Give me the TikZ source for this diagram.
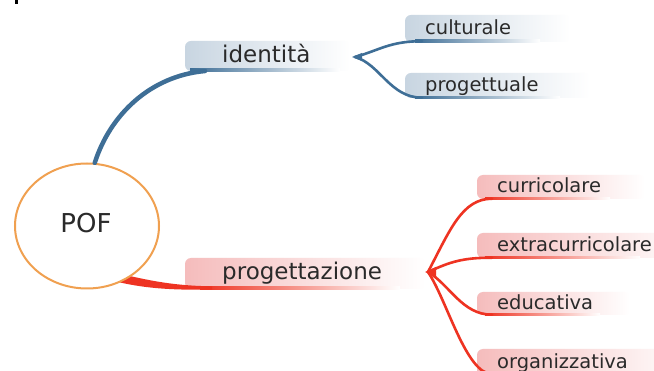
\documentclass[tikz,border=0pt]{standalone}
\usepackage{fontspec}
\setmainfont{DejaVu Sans}
\usetikzlibrary{shapes.geometric}
\definecolor{blueline}{HTML}{3E6E96}
\definecolor{bluebox}{HTML}{C8D5E1}
\definecolor{redline}{HTML}{EE3322}
\definecolor{redbox}{HTML}{F5BCBC}
\definecolor{pofor}{HTML}{F0A050}
\definecolor{txt}{HTML}{2A2A2A}
\tikzset{
  branchtext/.style={anchor=base west, inner sep=0pt, text=txt, font=\fontsize{23}{27}\selectfont},
  childtext/.style={anchor=base west, inner sep=0pt, text=txt, font=\fontsize{19.5}{23}\selectfont},
  bluebar/.style={left color=bluebox, middle color=bluebox!70, right color=white, rounded corners=6pt},
  redbar/.style={left color=redbox, middle color=redbox!70, right color=white, rounded corners=6pt},
  bluelinebar/.style={left color=blueline, right color=white},
  redlinebar/.style={left color=redline, right color=white},
  mainblue/.style={draw=blueline, line width=4.5pt, line cap=round},
  subblue/.style={draw=blueline, line width=2.6pt, line cap=round},
  subred/.style={draw=redline, line width=2.6pt, line cap=round},
}
\begin{document}
\begin{tikzpicture}[x=1pt, y=-1pt]
\useasboundingbox[fill=white] (0,0) rectangle (654,371);
\fill[black] (15,0) rectangle (17.5,4);

% connection points
\coordinate (identin) at (205,71);
\coordinate (redA) at (115,272.5);
\coordinate (redB) at (118,282);
\coordinate (redC) at (212,286.3);
\coordinate (redD) at (212,289.7);
\coordinate (bfork) at (355,57);
\coordinate (rfork) at (428,272);
\coordinate (cultin) at (422,41.2);
\coordinate (progtin) at (422,97.7);
\coordinate (currin) at (492,198.7);
\coordinate (extrain) at (492,257.7);
\coordinate (educin) at (492,314.7);
\coordinate (orgin) at (492,374);

% boxes
\shade[bluebar] (185,41) rectangle (350,71);
\shade[bluebar] (405,15) rectangle (570,42);
\shade[bluebar] (405,73) rectangle (590,98);
\shade[redbar] (185,258) rectangle (425,289);
\shade[redbar] (477,175) rectangle (645,199);
\shade[redbar] (477,233) rectangle (690,258);
\shade[redbar] (477,292) rectangle (630,315);
\shade[redbar] (477,349) rectangle (690,378);

% bottom lines of boxes
\shade[bluelinebar] (190,69) rectangle (340,72);
\shade[bluelinebar] (415,40) rectangle (540,42.5);
\shade[bluelinebar] (415,96.5) rectangle (560,99);
\shade[redlinebar] (200,286.3) rectangle (400,289.7);
\shade[redlinebar] (485,197.5) rectangle (610,200);
\shade[redlinebar] (485,256.5) rectangle (640,259);
\shade[redlinebar] (485,313.5) rectangle (600,316);

% red main connector (under the circle)
\fill[redline] (redA) .. controls (150,281) and (175,285.8) .. (redC)
   -- (redD) .. controls (175,290) and (148,289) .. (redB) -- cycle;

% central node
\node[ellipse, draw=pofor, line width=2pt, fill=white, minimum width=144pt, minimum height=125pt, inner sep=0pt] (pof) at (87,226) {};
\node[anchor=base, inner sep=0pt, text=txt, font=\fontsize{26}{30}\selectfont] (poftext) at (86,233) {POF};

% texts
\node[branchtext] (ident) at (222,63) {identità};
\node[branchtext] (prog) at (222,280) {progettazione};
\node[childtext] (cult) at (425,35) {culturale};
\node[childtext] (progt) at (425,92) {progettuale};
\node[childtext] (curr) at (497,193) {curricolare};
\node[childtext] (extra) at (497,252) {extracurricolare};
\node[childtext] (educ) at (497,310) {educativa};
\node[childtext] (org) at (497,369) {organizzativa};

% blue main connector
\draw[mainblue] (pof.83) .. controls (110,115) and (150,76) .. (identin);

% blue children
\draw[subblue] (bfork) .. controls (380,50) and (390,41.2) .. (cultin);
\draw[subblue] (bfork) .. controls (380,64) and (390,97.7) .. (progtin);
\fill[blueline] (352,57) -- (362,53) -- (362,61) -- cycle;

% red children
\draw[subred] (rfork) .. controls (450,230) and (462,198.7) .. (currin);
\draw[subred] (rfork) .. controls (450,262) and (462,257.7) .. (extrain);
\draw[subred] (rfork) .. controls (450,285) and (462,314.7) .. (educin);
\draw[subred] (rfork) .. controls (447,300) and (466,374) .. (orgin);
\fill[redline] (425,272) -- (436,267) -- (436,277) -- cycle;
\end{tikzpicture}
\end{document}
